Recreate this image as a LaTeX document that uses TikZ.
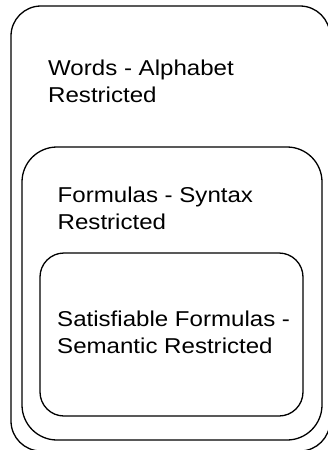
\documentclass[tikz,border=0pt]{standalone}
\usepackage{fontspec}
\newfontfamily\hfont[FakeStretch=1.12]{Liberation Sans}
\tikzset{
  setbox/.style={draw=black, line width=1.3pt},
  lbl/.style={anchor=north west, inner sep=0pt, align=left, font=\hfont\fontsize{21.5}{27}\selectfont}
}
\begin{document}
\begin{tikzpicture}[x=1pt,y=-1pt]
\useasboundingbox (0,0) rectangle (327,450);
\draw[setbox, rounded corners=30pt] (11,6) rectangle (330,451);
\draw[setbox, rounded corners=35pt] (22,147) rectangle (322,440);
\draw[setbox, rounded corners=24pt] (40,253) rectangle (303,416);
\node[lbl] (words) at (48,59.6) {Words - Alphabet\\Restricted};
\node[lbl] (formulas) at (57.5,186.3) {Formulas - Syntax\\Restricted};
\node[lbl] (sat) at (57,310.6) {Satisfiable Formulas -\\Semantic Restricted};
\end{tikzpicture}
\end{document}
